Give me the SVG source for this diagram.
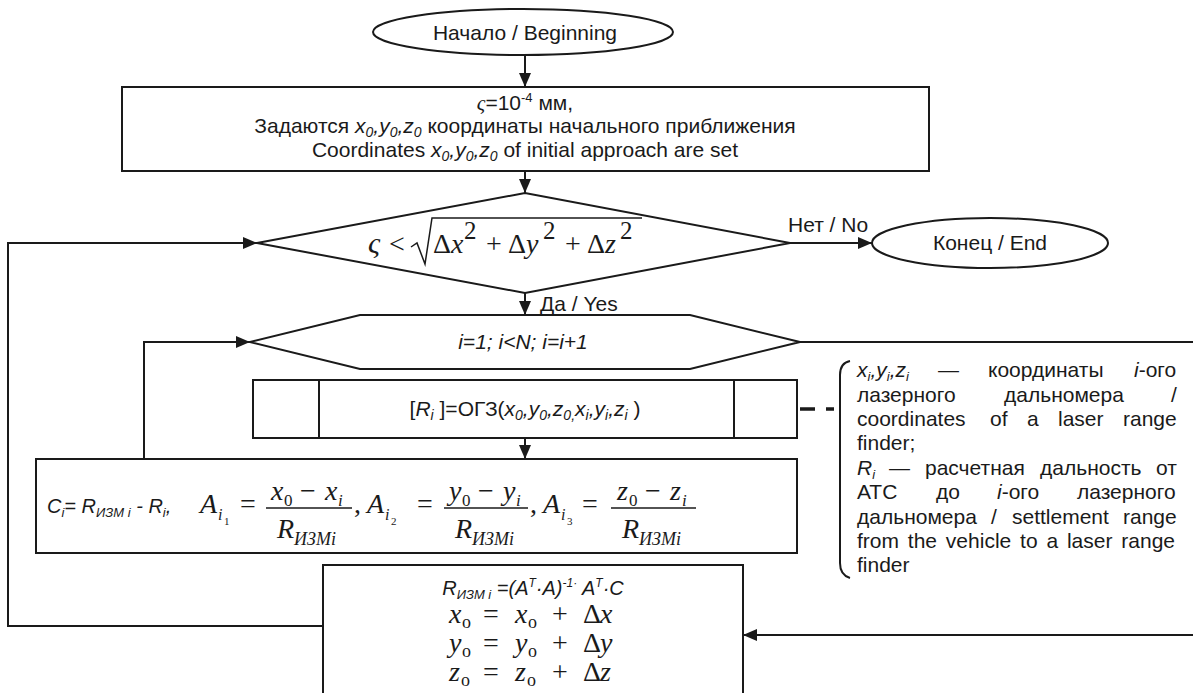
<svg xmlns="http://www.w3.org/2000/svg" width="1193" height="693" viewBox="0 0 1193 693">
<defs>
<style>
.s{fill:none;stroke:#1a1a1a;stroke-width:2}
.w{fill:#fff;stroke:#1a1a1a;stroke-width:2}
.t{font-family:"Liberation Sans",Arial,sans-serif;font-size:21px;fill:#1a1a1a}
.c{text-anchor:middle}
.i{font-style:italic}
.m{font-family:"Liberation Serif","Times New Roman",serif;font-size:28px;fill:#1a1a1a}
.mi{font-style:italic}
.sb{font-size:17px}
.ss{font-size:16px}
.sx{font-size:11px}
.sd{font-size:18px}
.sp{font-size:25px}
.bar{stroke:#1a1a1a;stroke-width:1.5;fill:none}
</style>
<marker id="ah" markerUnits="userSpaceOnUse" markerWidth="14" markerHeight="12" refX="14" refY="6" orient="auto">
<path d="M0,0 L14,6 L0,12 z" fill="#1a1a1a"/>
</marker>
</defs>
<rect width="1193" height="693" fill="#fff"/>

<g id="connectors">
<path class="s" d="M525,55 V87" marker-end="url(#ah)"/>
<path class="s" d="M525,171 V193" marker-end="url(#ah)"/>
<path class="s" d="M790,243 H872" marker-end="url(#ah)"/>
<path class="s" d="M525,293 V315" marker-end="url(#ah)"/>
<path class="s" d="M525,438 V459" marker-end="url(#ah)"/>
<path class="s" d="M323,626 H8 V243 H257" marker-end="url(#ah)"/>
<path class="s" d="M144,459 V342 H250" marker-end="url(#ah)"/>
<path class="s" d="M800,342 H1193"/>
<path class="s" d="M1193,635 H743" marker-end="url(#ah)"/>
<path d="M800,409 H815 M826,409 H834" stroke="#1a1a1a" stroke-width="3.5" fill="none"/>
<text class="t" x="788" y="232">Нет / No</text>
<text class="t" x="540" y="311">Да / Yes</text>
</g>

<g id="start">
<ellipse class="w" cx="523" cy="32" rx="150" ry="23"/>
<text class="t c" x="525" y="40">Начало / Beginning</text>
</g>

<g id="init">
<rect class="w" x="122" y="87" width="807" height="84"/>
<text class="t c" x="525" y="110"><tspan font-family="Liberation Serif" font-style="italic">ς</tspan>=10<tspan font-size="13" dy="-8">-4</tspan><tspan dy="8"> мм,</tspan></text>
<text class="t c" x="525" y="133">Задаются <tspan class="i">x</tspan><tspan class="i" font-size="14" dy="4">0</tspan><tspan class="i" dy="-4">,y</tspan><tspan class="i" font-size="14" dy="4">0</tspan><tspan class="i" dy="-4">,z</tspan><tspan class="i" font-size="14" dy="4">0</tspan><tspan dy="-4"> координаты начального приближения</tspan></text>
<text class="t c" x="525" y="157">Coordinates <tspan class="i">x</tspan><tspan class="i" font-size="14" dy="4">0</tspan><tspan class="i" dy="-4">,y</tspan><tspan class="i" font-size="14" dy="4">0</tspan><tspan class="i" dy="-4">,z</tspan><tspan class="i" font-size="14" dy="4">0</tspan><tspan dy="-4"> of initial approach are set</tspan></text>
</g>

<g id="condition">
<polygon class="w" points="257,243 525,193 790,243 525,293"/>
<text class="m mi" style="font-size:30px" x="368" y="253">ς</text>
<text class="m" x="389" y="253">&lt;</text>
<polyline class="bar" points="411,247 417,243 425,264 432,218 642,218"/>
<text class="m" x="433" y="253">Δ</text>
<text class="m mi" x="451" y="253">x</text>
<text class="m sp" x="464" y="239">2</text>
<text class="m" x="486" y="253">+</text>
<text class="m" x="508" y="253">Δ</text>
<text class="m mi" x="526" y="253">y</text>
<text class="m sp" x="543" y="239">2</text>
<text class="m" x="565" y="253">+</text>
<text class="m" x="587" y="253">Δ</text>
<text class="m mi" x="605" y="253">z</text>
<text class="m sp" x="620" y="239">2</text>
</g>

<g id="end">
<ellipse class="w" cx="990" cy="243" rx="118" ry="25"/>
<text class="t c" x="990" y="250">Конец / End</text>
</g>

<g id="loop">
<polygon class="w" points="250,342 360,315 690,315 800,342 690,369 360,369"/>
<text class="t c i" x="523" y="349">i=1; i&lt;N; i=i+1</text>
</g>

<g id="subroutine">
<rect class="w" x="253" y="380" width="544" height="58"/>
<line class="s" x1="319" y1="380" x2="319" y2="438"/>
<line class="s" x1="734" y1="380" x2="734" y2="438"/>
<text class="t c" x="525" y="416">[<tspan class="i">R</tspan><tspan class="i" font-size="14" dy="4">i</tspan><tspan dy="-4"> ]=ОГЗ(</tspan><tspan class="i">x</tspan><tspan class="i" font-size="14" dy="4">0</tspan><tspan class="i" dy="-4">,y</tspan><tspan class="i" font-size="14" dy="4">0</tspan><tspan class="i" dy="-4">,z</tspan><tspan class="i" font-size="14" dy="4">0,</tspan><tspan class="i" dy="-4">x</tspan><tspan class="i" font-size="14" dy="4">i</tspan><tspan class="i" dy="-4">,y</tspan><tspan class="i" font-size="14" dy="4">i</tspan><tspan class="i" dy="-4">,z</tspan><tspan class="i" font-size="14" dy="4">i</tspan><tspan dy="-4"> )</tspan></text>
</g>

<g id="calc">
<rect class="w" x="36" y="459" width="761" height="94"/>
<text class="t i" style="font-size:20px" x="47" y="513">C<tspan font-size="13" dy="4">i</tspan><tspan dy="-4">= R</tspan><tspan font-size="13" dy="4">ИЗМ i</tspan><tspan dy="-4"> - R</tspan><tspan font-size="13" dy="4">i</tspan><tspan dy="-4">,</tspan></text>
<!-- A_i1 -->
<text class="m mi" x="200" y="513">A</text>
<text class="m mi ss" x="218" y="520">i</text>
<text class="m sx" x="224" y="525">1</text>
<text class="m" x="240" y="513">=</text>
<text class="m mi" x="271" y="500">x</text>
<text class="m sb" x="284" y="506">0</text>
<text class="m" x="300" y="500">−</text>
<text class="m mi" x="325" y="500">x</text>
<text class="m mi sb" x="338" y="506">i</text>
<line class="bar" x1="266" y1="508" x2="352" y2="508"/>
<text class="m mi" x="277" y="538">R</text>
<text class="m mi sd" x="294" y="545">ИЗМi</text>
<text class="m" x="354" y="513">,</text>
<!-- A_i2 -->
<text class="m mi" x="367" y="513">A</text>
<text class="m mi ss" x="385" y="520">i</text>
<text class="m sx" x="391" y="525">2</text>
<text class="m" x="417" y="513">=</text>
<text class="m mi" x="449" y="500">y</text>
<text class="m sb" x="462" y="506">0</text>
<text class="m" x="478" y="500">−</text>
<text class="m mi" x="503" y="500">y</text>
<text class="m mi sb" x="516" y="506">i</text>
<line class="bar" x1="444" y1="508" x2="528" y2="508"/>
<text class="m mi" x="455" y="538">R</text>
<text class="m mi sd" x="472" y="545">ИЗМi</text>
<text class="m" x="530" y="513">,</text>
<!-- A_i3 -->
<text class="m mi" x="543" y="513">A</text>
<text class="m mi ss" x="561" y="520">i</text>
<text class="m sx" x="567" y="525">3</text>
<text class="m" x="582" y="513">=</text>
<text class="m mi" x="617" y="500">z</text>
<text class="m sb" x="629" y="506">0</text>
<text class="m" x="645" y="500">−</text>
<text class="m mi" x="670" y="500">z</text>
<text class="m mi sb" x="682" y="506">i</text>
<line class="bar" x1="611" y1="508" x2="696" y2="508"/>
<text class="m mi" x="622" y="538">R</text>
<text class="m mi sd" x="639" y="545">ИЗМi</text>
</g>

<g id="update">
<path class="w" d="M323,700 V565 H743 V700"/>
<text class="t i c" style="font-size:20px" x="533" y="595">R<tspan font-size="13" dy="4">ИЗМ i</tspan><tspan dy="-4"> =(A</tspan><tspan font-size="12" dy="-8">T</tspan><tspan dy="8">·A)</tspan><tspan font-size="12" dy="-8">-1·</tspan><tspan dy="8"> A</tspan><tspan font-size="12" dy="-8">T</tspan><tspan dy="8">·C</tspan></text>
<text class="m mi" x="449" y="623">x</text><text class="m" style="font-size:18px" x="462" y="628">o</text><text class="m" x="483" y="623">=</text><text class="m mi" x="515" y="623">x</text><text class="m" style="font-size:18px" x="528" y="628">o</text><text class="m" x="552" y="623">+</text><text class="m" x="583" y="623">Δ</text><text class="m mi" x="600" y="623">x</text>
<text class="m mi" x="449" y="652">y</text><text class="m" style="font-size:18px" x="462" y="657">o</text><text class="m" x="483" y="652">=</text><text class="m mi" x="515" y="652">y</text><text class="m" style="font-size:18px" x="528" y="657">o</text><text class="m" x="552" y="652">+</text><text class="m" x="583" y="652">Δ</text><text class="m mi" x="600" y="652">y</text>
<text class="m mi" x="449" y="681">z</text><text class="m" style="font-size:18px" x="461" y="686">o</text><text class="m" x="483" y="681">=</text><text class="m mi" x="515" y="681">z</text><text class="m" style="font-size:18px" x="527" y="686">o</text><text class="m" x="552" y="681">+</text><text class="m" x="583" y="681">Δ</text><text class="m mi" x="600" y="681">z</text>
</g>

<g id="note">
<path class="s" d="M850,361 Q840,363 840,375 V563 Q840,575 850,578"/>
<text class="t" y="377"><tspan class="i" x="857">x</tspan><tspan class="i" font-size="13" dy="4">i</tspan><tspan class="i" dy="-4">,y</tspan><tspan class="i" font-size="13" dy="4">i</tspan><tspan class="i" dy="-4">,z</tspan><tspan class="i" font-size="13" dy="4">i</tspan><tspan x="938" dy="-4">—</tspan><tspan x="988">координаты</tspan><tspan class="i" x="1134">i</tspan><tspan>-ого</tspan></text>
<text class="t" y="402"><tspan x="857">лазерного</tspan><tspan x="1004">дальномера</tspan><tspan x="1171">/</tspan></text>
<text class="t" y="426"><tspan x="857">coordinates</tspan><tspan x="990">of</tspan><tspan x="1027">a</tspan><tspan x="1058">laser</tspan><tspan x="1123">range</tspan></text>
<text class="t" x="857" y="450">finder;</text>
<text class="t" y="475"><tspan class="i" x="857">R</tspan><tspan class="i" font-size="13" dy="4">i</tspan><tspan x="889" dy="-4">—</tspan><tspan x="925">расчетная</tspan><tspan x="1040">дальность</tspan><tspan x="1156">от</tspan></text>
<text class="t" y="499"><tspan x="857">АТС</tspan><tspan x="936">до</tspan><tspan class="i" x="997">i</tspan><tspan>-ого</tspan><tspan x="1077">лазерного</tspan></text>
<text class="t" y="524"><tspan x="857">дальномера</tspan><tspan x="991">/</tspan><tspan x="1012">settlement</tspan><tspan x="1123">range</tspan></text>
<text class="t" x="857" y="548" word-spacing="3">from the vehicle to a laser range</text>
<text class="t" x="857" y="572">finder</text>
</g>
</svg>
